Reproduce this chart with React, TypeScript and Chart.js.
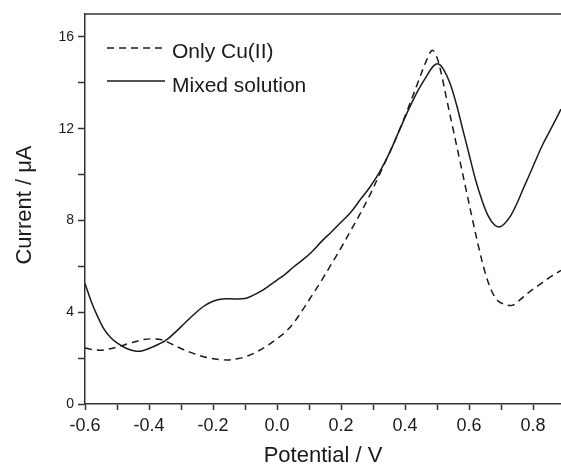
import React, { useEffect, useRef } from "react";
import { Chart, registerables } from "chart.js";

Chart.register(...registerables);

// Only Cu(II) (dashed)
const potentialCu = [
  -0.6, -0.57, -0.54, -0.5, -0.46, -0.42, -0.39, -0.36, -0.33, -0.3, -0.27, -0.24, -0.21, -0.18, -0.15,
  -0.12, -0.09, -0.06, -0.03, 0.0, 0.025, 0.05, 0.08, 0.11, 0.14, 0.17, 0.2, 0.23, 0.26, 0.29, 0.32,
  0.35, 0.38, 0.41, 0.44, 0.465, 0.485, 0.5, 0.515, 0.53, 0.55, 0.57, 0.59, 0.61, 0.63, 0.65, 0.67,
  0.69, 0.71, 0.735, 0.76, 0.79, 0.82, 0.85, 0.8875,
];
const currentCu = [
  2.44, 2.36, 2.36, 2.48, 2.65, 2.8, 2.84, 2.8, 2.62, 2.42, 2.25, 2.1, 2.0, 1.94, 1.92,
  1.98, 2.1, 2.3, 2.55, 2.85, 3.12, 3.5, 4.1, 4.75, 5.4, 6.1, 6.8, 7.55, 8.3, 9.1, 10.0,
  10.9, 11.85, 12.9, 14.0, 14.9, 15.42, 15.1, 14.3, 13.3, 12.0, 10.7, 9.4, 8.1, 6.85, 5.75, 4.95,
  4.5, 4.35, 4.3, 4.55, 4.9, 5.2, 5.5, 5.82,
];

// Mixed solution (solid)
const potentialMixed = [
  -0.6, -0.58, -0.56, -0.54, -0.52, -0.5, -0.47, -0.44, -0.42, -0.39, -0.35, -0.32, -0.29, -0.26, -0.23,
  -0.2, -0.17, -0.13, -0.1, -0.08, -0.05, -0.02, 0.0, 0.025, 0.05, 0.08, 0.11, 0.14, 0.17, 0.2, 0.23,
  0.26, 0.29, 0.32, 0.35, 0.38, 0.41, 0.44, 0.47, 0.49, 0.505, 0.52, 0.54, 0.56, 0.58, 0.6, 0.62,
  0.64, 0.66, 0.68, 0.695, 0.71, 0.73, 0.75, 0.77, 0.8, 0.83, 0.86, 0.8875,
];
const currentMixed = [
  5.25, 4.45, 3.8, 3.25, 2.9, 2.66, 2.42, 2.3, 2.32, 2.48, 2.75, 3.1, 3.5, 3.9, 4.25,
  4.48, 4.58, 4.58, 4.6, 4.7, 4.92, 5.2, 5.4, 5.65, 5.95, 6.28, 6.65, 7.1, 7.5, 7.92, 8.35,
  8.9, 9.45, 10.1, 10.9, 11.85, 12.8, 13.65, 14.35, 14.75, 14.82, 14.6, 14.0, 13.1, 12.0, 10.9, 9.8,
  8.9, 8.2, 7.8, 7.72, 7.85, 8.2, 8.75, 9.4, 10.35, 11.3, 12.1, 12.85,
];

// Tick positions (labelled ones and minor ones)
const xTickValues = [-0.6, -0.5, -0.4, -0.3, -0.2, -0.1, 0.0, 0.1, 0.2, 0.3, 0.4, 0.5, 0.6, 0.7, 0.8];
const xTickLabels = ["-0.6", "", "-0.4", "", "-0.2", "", "0.0", "", "0.2", "", "0.4", "", "0.6", "", "0.8"];
const yTickValues = [0, 2, 4, 6, 8, 10, 12, 14, 16];
const yTickLabels = ["0", "", "4", "", "8", "", "12", "", "16"];

const seriesLabels = ["Only Cu(II)", "Mixed solution"];
const xTitle = "Potential / V";
const yTitle = "Current / \u03bcA";

const FONT = "'Liberation Sans', Arial, Helvetica, sans-serif";
const INK = "#1a1a1a";
const AXIS = "#333333";

const toPoints = (xs: number[], ys: number[]) => xs.map((x, i) => ({ x, y: ys[i] }));

const overlayPlugin = {
  id: "overlay",
  afterDraw(chart: any) {
    const { ctx, chartArea } = chart;
    const { left, right, top, bottom } = chartArea;
    ctx.save();
    // top frame line
    ctx.strokeStyle = AXIS;
    ctx.lineWidth = 1.5;
    ctx.beginPath();
    ctx.moveTo(left, top);
    ctx.lineTo(right, top);
    ctx.stroke();

    // legend
    const lx0 = left + 22;
    const lx1 = left + 80;
    ctx.strokeStyle = INK;
    ctx.lineWidth = 1.5;
    ctx.setLineDash([7, 5]);
    ctx.beginPath();
    ctx.moveTo(lx0, top + 34);
    ctx.lineTo(lx1, top + 34);
    ctx.stroke();
    ctx.setLineDash([]);
    ctx.beginPath();
    ctx.moveTo(lx0, top + 67);
    ctx.lineTo(lx1, top + 67);
    ctx.stroke();
    ctx.fillStyle = INK;
    ctx.font = `21px ${FONT}`;
    ctx.textAlign = "left";
    ctx.textBaseline = "middle";
    ctx.fillText(seriesLabels[0], lx1 + 7, top + 38);
    ctx.fillText(seriesLabels[1], lx1 + 7, top + 72);

    // axis titles
    ctx.font = `22px ${FONT}`;
    ctx.textAlign = "center";
    ctx.fillText(xTitle, (left + right) / 2, bottom + 52);
    ctx.translate(25, (top + bottom) / 2 - 4);
    ctx.rotate(-Math.PI / 2);
    ctx.fillText(yTitle, 0, 0);
    ctx.restore();
  },
};

export default function App() {
  const ref = useRef<HTMLCanvasElement | null>(null);
  useEffect(() => {
    if (!ref.current) return;
    const chart = new Chart(ref.current, {
      type: "line",
      data: {
        datasets: [
          {
            label: seriesLabels[0],
            data: toPoints(potentialCu, currentCu),
            borderColor: INK,
            borderWidth: 1.5,
            borderDash: [7, 5],
            pointRadius: 0,
            tension: 0.35,
            fill: false,
          },
          {
            label: seriesLabels[1],
            data: toPoints(potentialMixed, currentMixed),
            borderColor: INK,
            borderWidth: 1.5,
            pointRadius: 0,
            tension: 0.35,
            fill: false,
          },
        ],
      },
      options: {
        animation: false,
        responsive: true,
        maintainAspectRatio: false,
        layout: { padding: { top: 14, right: 0, left: 0, bottom: 0 } },
        plugins: { legend: { display: false }, tooltip: { enabled: false } },
        scales: {
          x: {
            type: "linear",
            min: -0.6,
            max: 0.8875,
            afterBuildTicks: (s: any) => {
              s.ticks = xTickValues.map((v) => ({ value: v }));
            },
            afterFit: (s: any) => {
              s.height = 68;
            },
            border: { display: true, color: AXIS, width: 1.5 },
            grid: {
              drawOnChartArea: false,
              drawTicks: true,
              tickLength: 6,
              color: AXIS,
              tickWidth: 1.5,
            },
            ticks: {
              autoSkip: false,
              maxRotation: 0,
              padding: 5,
              color: INK,
              font: { family: FONT, size: 18 },
              callback: (_v: any, i: number) => xTickLabels[i] ?? "",
            },
          },
          y: {
            type: "linear",
            min: 0,
            max: 17,
            afterBuildTicks: (s: any) => {
              s.ticks = yTickValues.map((v) => ({ value: v }));
            },
            afterFit: (s: any) => {
              s.width = 85;
            },
            border: { display: true, color: AXIS, width: 1.5 },
            grid: {
              drawOnChartArea: false,
              drawTicks: true,
              tickLength: 7,
              color: AXIS,
              tickWidth: 1.5,
            },
            ticks: {
              autoSkip: false,
              padding: 4,
              color: INK,
              font: { family: FONT, size: 14 },
              callback: (_v: any, i: number) => yTickLabels[i] ?? "",
            },
          },
        },
      },
      plugins: [overlayPlugin],
    });
    return () => chart.destroy();
  }, []);
  return (
    <div style={{ position: "absolute", left: 0, top: 0, width: 561, height: 472, background: "#fff" }}>
      <canvas ref={ref} />
    </div>
  );
}
